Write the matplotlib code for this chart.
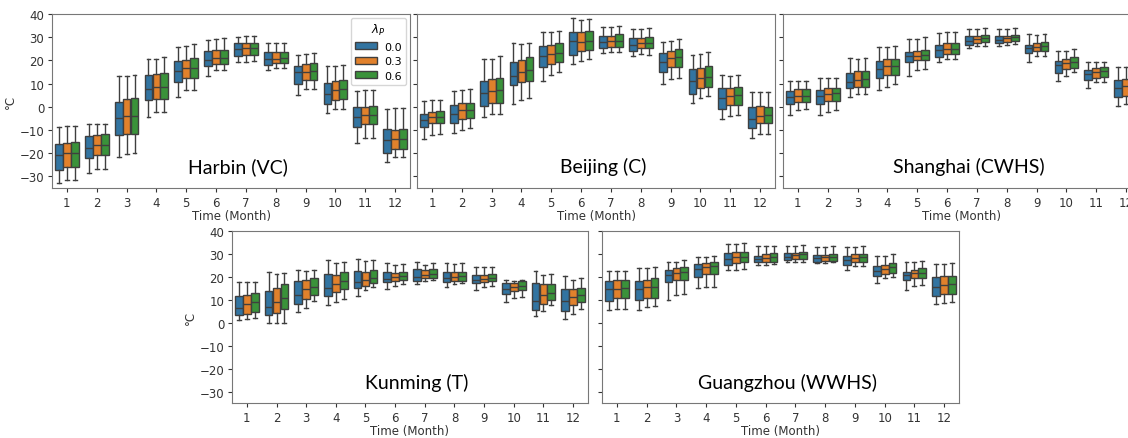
import matplotlib
matplotlib.use('Agg')
import numpy as np
import matplotlib.pyplot as plt
from matplotlib.patches import Patch

# box stats per month: (whisker low, q1, median, q3, whisker high)
months = [1, 2, 3, 4, 5, 6, 7, 8, 9, 10, 11, 12]
lambdas = ['0.0', '0.3', '0.6']

harbin_00 = [(-33.0, -27.3, -20.8, -16.2, -8.7), (-28.4, -22.2, -17.8, -12.6, -7.3), (-21.5, -12.3, -4.8, 2.0, 13.1),
             (-4.5, 3.0, 7.6, 13.8, 20.5), (4.3, 10.8, 15.5, 19.8, 25.6), (13.3, 17.4, 20.3, 24.0, 28.8),
             (19.4, 22.0, 24.9, 27.3, 30.2), (15.8, 18.1, 20.5, 23.4, 27.3), (5.0, 9.7, 14.8, 17.4, 22.4),
             (-2.5, 1.4, 5.7, 10.2, 17.7), (-15.5, -8.7, -4.2, -0.3, 6.9), (-23.7, -20.1, -14.3, -9.7, -0.8)]
harbin_03 = [(-31.6, -25.8, -20.1, -15.5, -8.4), (-27.0, -20.8, -16.6, -12.0, -7.6), (-20.2, -11.9, -3.8, 3.5, 13.3),
             (-2.2, 3.5, 8.6, 14.1, 20.8), (7.1, 12.6, 16.5, 20.3, 26.0), (15.8, 18.4, 21.0, 24.4, 29.0),
             (19.5, 22.3, 25.2, 27.3, 30.3), (16.5, 18.8, 20.8, 23.4, 27.3), (7.5, 11.6, 15.2, 18.4, 22.7),
             (-0.9, 3.0, 7.4, 11.3, 17.7), (-13.3, -7.6, -3.7, 0.1, 7.3), (-21.6, -18.0, -14.0, -10.0, -0.6)]
harbin_06 = [(-31.6, -25.8, -20.1, -15.3, -8.4), (-27.0, -20.8, -16.6, -11.7, -7.3), (-19.9, -11.9, -3.8, 3.7, 13.5),
             (-2.1, 3.5, 8.7, 14.5, 21.3), (7.3, 12.6, 16.8, 21.0, 26.9), (15.8, 18.4, 21.0, 24.6, 29.5),
             (19.7, 22.3, 25.3, 27.6, 30.6), (16.7, 18.8, 21.0, 23.7, 27.6), (7.5, 11.6, 15.5, 18.8, 23.0),
             (-0.8, 3.3, 7.5, 11.5, 18.0), (-13.3, -7.3, -3.4, 0.4, 7.3), (-21.6, -18.0, -13.7, -9.7, -0.6)]

beijing_00 = [(-13.7, -8.7, -5.8, -2.9, 2.6), (-11.1, -7.1, -2.9, 0.7, 6.7), (-4.4, 0.4, 5.9, 11.2, 20.8),
              (1.4, 9.3, 13.4, 19.4, 27.5), (11.2, 17.0, 21.7, 26.0, 32.4), (18.4, 22.4, 28.2, 32.1, 38.3),
              (23.1, 25.2, 27.8, 30.6, 34.2), (22.0, 24.2, 26.7, 29.5, 33.5), (9.8, 15.1, 19.5, 23.1, 27.8),
              (1.8, 5.4, 10.9, 16.2, 22.3), (-5.1, -0.8, 3.7, 8.3, 13.6), (-13.3, -9.0, -5.1, 0.0, 6.2)]
beijing_03 = [(-12.1, -7.2, -4.6, -2.1, 2.8), (-10.0, -5.4, -1.5, 1.5, 7.2), (-3.2, 1.5, 6.9, 11.9, 20.8),
              (3.0, 10.5, 15.1, 20.3, 27.0), (13.6, 18.4, 22.7, 26.6, 32.1), (19.8, 23.9, 28.0, 32.1, 37.4),
              (23.7, 25.9, 28.2, 30.6, 34.2), (22.7, 25.2, 27.3, 29.5, 33.5), (11.9, 17.0, 21.0, 24.2, 28.2),
              (3.6, 7.9, 12.3, 16.5, 22.7), (-3.9, 0.7, 4.7, 8.3, 13.4), (-11.9, -7.2, -3.9, 0.4, 6.2)]
beijing_06 = [(-11.8, -7.1, -4.2, -1.8, 3.0), (-9.0, -4.9, -1.5, 1.8, 7.6), (-2.9, 1.5, 7.3, 12.6, 22.0),
              (3.6, 10.9, 15.9, 21.3, 27.5), (14.8, 19.1, 23.1, 27.5, 32.5), (20.6, 24.4, 28.5, 32.8, 37.8),
              (23.7, 25.9, 28.5, 31.4, 34.7), (22.4, 25.2, 27.5, 30.2, 34.0), (12.6, 17.2, 21.6, 24.9, 29.2),
              (4.7, 8.6, 12.9, 17.4, 23.4), (-3.6, 0.7, 5.0, 8.7, 13.8), (-11.6, -7.1, -3.5, 0.1, 6.2)]

shanghai_00 = [(-3.6, 1.4, 4.0, 6.9, 11.2), (-3.6, 1.1, 4.7, 7.3, 12.6), (4.4, 7.9, 10.5, 14.5, 21.0),
               (7.3, 12.3, 16.2, 19.8, 25.6), (13.1, 19.5, 21.7, 23.4, 29.2), (19.1, 21.6, 24.4, 26.7, 31.6),
               (25.2, 26.6, 28.5, 30.4, 33.5), (26.0, 27.3, 28.9, 30.4, 33.5), (19.4, 23.1, 25.2, 26.6, 31.4),
               (11.2, 14.5, 18.1, 19.8, 24.2), (8.0, 11.6, 14.1, 16.0, 19.1), (0.4, 4.0, 8.3, 11.6, 17.0)]
shanghai_03 = [(-1.3, 2.1, 4.7, 7.6, 11.2), (-2.2, 2.6, 5.4, 7.9, 12.6), (5.4, 8.6, 11.6, 15.5, 20.6),
               (8.7, 13.6, 17.4, 20.6, 25.6), (15.8, 20.3, 22.0, 23.9, 29.2), (20.6, 22.7, 24.9, 27.3, 32.1),
               (26.0, 27.3, 29.2, 30.6, 33.5), (26.6, 28.0, 29.5, 30.6, 33.5), (21.7, 23.9, 25.6, 27.3, 30.9),
               (13.4, 16.2, 18.8, 20.6, 24.2), (10.5, 12.6, 15.1, 16.7, 19.1), (1.4, 4.7, 9.0, 11.9, 17.2)]
shanghai_06 = [(-1.0, 2.1, 4.7, 7.6, 11.2), (-1.5, 2.6, 5.9, 7.9, 12.6), (5.7, 8.6, 11.9, 15.5, 21.0),
               (9.8, 13.8, 17.4, 20.8, 26.0), (16.2, 20.3, 22.3, 24.4, 29.9), (20.8, 22.7, 24.9, 27.5, 32.4),
               (26.3, 27.8, 29.5, 31.1, 34.0), (27.0, 28.2, 29.9, 31.1, 34.0), (22.0, 24.2, 26.3, 28.0, 31.4),
               (14.8, 16.7, 19.1, 21.3, 24.9), (10.5, 12.9, 15.5, 17.2, 19.5), (2.0, 5.0, 9.0, 12.0, 17.5)]

kunming_00 = [(1.1, 3.3, 6.4, 11.6, 17.7), (0.0, 3.3, 6.9, 13.8, 22.0), (4.7, 8.0, 12.3, 18.4, 23.1),
              (7.6, 11.5, 15.1, 21.3, 27.3), (11.5, 15.1, 17.7, 22.4, 28.0), (14.5, 17.7, 19.1, 22.0, 26.0),
              (16.9, 18.4, 20.1, 23.4, 26.3), (15.5, 17.7, 19.4, 22.3, 26.0), (14.4, 17.2, 18.7, 21.0, 24.4),
              (9.0, 12.6, 14.8, 17.2, 18.7), (2.8, 5.4, 9.3, 17.4, 22.4), (1.8, 5.0, 9.3, 14.8, 20.5)]
kunming_03 = [(1.8, 4.0, 8.0, 12.2, 17.7), (0.0, 4.3, 9.0, 15.1, 21.3), (6.4, 10.5, 14.5, 18.7, 22.7),
              (9.0, 13.3, 17.0, 21.0, 26.0), (14.1, 16.2, 18.7, 22.3, 27.0), (15.9, 18.4, 19.8, 21.7, 25.2),
              (18.4, 19.4, 20.8, 23.0, 25.3), (16.9, 18.1, 19.8, 22.3, 25.6), (15.5, 17.7, 19.1, 20.8, 24.1),
              (10.9, 13.8, 15.5, 17.4, 18.4), (5.1, 8.0, 11.9, 16.7, 21.0), (3.7, 7.6, 11.2, 14.8, 18.8)]
kunming_06 = [(2.1, 4.7, 9.0, 13.0, 17.7), (0.1, 5.8, 10.7, 16.7, 21.7), (9.3, 12.2, 15.5, 19.4, 23.1),
              (10.5, 14.8, 18.1, 22.0, 26.6), (15.5, 17.4, 19.5, 23.1, 27.5), (16.7, 18.7, 20.3, 22.3, 25.6),
              (18.7, 19.4, 21.3, 23.4, 25.9), (17.2, 18.4, 20.3, 22.3, 26.0), (16.2, 18.0, 19.4, 21.3, 24.4),
              (11.2, 14.4, 16.2, 18.0, 18.7), (7.9, 10.0, 13.0, 16.9, 21.3), (5.8, 9.0, 11.9, 15.1, 19.4)]

guangzhou_00 = [(5.7, 9.5, 14.5, 18.4, 22.4), (5.4, 9.7, 14.8, 18.4, 23.7), (10.0, 17.7, 20.8, 23.1, 26.7),
                (15.1, 20.1, 23.4, 25.6, 28.8), (23.1, 25.3, 28.0, 30.3, 34.2), (25.3, 26.3, 28.0, 29.2, 33.5),
                (26.3, 27.3, 28.8, 30.3, 33.5), (25.9, 26.7, 28.2, 29.5, 33.0), (23.1, 25.3, 27.5, 28.9, 33.0),
                (17.2, 20.5, 22.4, 24.6, 28.9), (14.4, 18.7, 20.8, 22.3, 26.3), (8.3, 11.6, 15.8, 19.8, 25.6)]
guangzhou_03 = [(5.8, 10.7, 14.8, 18.7, 22.4), (6.9, 10.7, 15.5, 18.8, 23.7), (12.2, 18.7, 21.7, 23.7, 26.7),
                (15.5, 21.3, 24.1, 25.9, 28.8), (23.1, 26.0, 28.8, 30.9, 34.5), (25.3, 26.7, 28.2, 29.9, 33.5),
                (26.6, 27.8, 29.6, 30.6, 33.5), (25.9, 27.0, 28.8, 29.6, 33.0), (24.6, 26.3, 28.2, 29.9, 33.2),
                (19.5, 21.3, 23.4, 25.2, 29.2), (16.2, 19.4, 21.7, 23.1, 26.3), (8.7, 12.6, 16.5, 20.3, 25.6)]
guangzhou_06 = [(6.1, 10.7, 15.1, 18.7, 22.7), (7.3, 10.9, 15.8, 19.4, 24.1), (12.6, 18.8, 22.0, 24.1, 27.3),
                (15.8, 21.3, 24.6, 26.3, 28.9), (23.4, 26.3, 28.8, 30.9, 34.7), (25.6, 26.7, 28.8, 30.2, 33.5),
                (26.7, 28.0, 29.9, 30.9, 33.8), (26.3, 27.0, 28.8, 29.9, 33.5), (24.9, 26.3, 28.5, 29.9, 33.5),
                (20.1, 21.7, 24.1, 26.0, 29.9), (16.5, 19.4, 21.7, 23.7, 27.0), (9.0, 12.6, 16.7, 20.5, 26.0)]

colors = ['#3274a1', '#e1812c', '#3a923a']
edge = '#3f3f3f'


def draw_city(ax, series, name, show_ylabel, show_yticklabels, legend=False):
    x = np.arange(len(months))
    width = 0.8 / len(series)
    for i, data in enumerate(series):
        stats = []
        for low, q1, med, q3, high in data:
            stats.append({'whislo': low, 'q1': q1, 'med': med, 'q3': q3, 'whishi': high})
        pos = x + (i - 1) * width
        ax.bxp(stats, positions=pos, widths=width * 0.98, showfliers=False, patch_artist=True,
               boxprops=dict(facecolor=colors[i], edgecolor=edge, linewidth=1.0),
               medianprops=dict(color=edge, linewidth=1.0),
               whiskerprops=dict(color=edge, linewidth=1.0),
               capprops=dict(color=edge, linewidth=1.0),
               manage_ticks=False)
    ax.set_xlim(-0.5, len(months) - 0.5)
    ax.set_ylim(-35, 40)
    ax.set_yticks([-30, -20, -10, 0, 10, 20, 30, 40])
    ax.set_xticks(x)
    ax.set_xticklabels([str(m) for m in months])
    ax.tick_params(labelsize=8.5, colors='#333333', length=3, pad=2.5)
    if not show_yticklabels:
        ax.set_yticklabels([])
    for s in ax.spines.values():
        s.set_color('#777777')
    ax.set_xlabel('Time (Month)', fontsize=8.5, color='#333333', labelpad=0)
    if show_ylabel:
        ax.set_ylabel('°C', fontsize=8.5, color='#333333', labelpad=2)
    ax.text(0.52, 0.125, name, transform=ax.transAxes, ha='center', va='center',
            fontsize=14, family='Lato', color='black')
    if legend:
        handles = [Patch(facecolor=colors[i], edgecolor=edge, linewidth=1.0, label=lambdas[i])
                   for i in range(len(lambdas))]
        ax.legend(handles=handles, title=r'$\lambda_P$',
                  loc='upper right', fontsize=8, title_fontsize=8.5, frameon=True,
                  borderaxespad=0.35, handlelength=2.0, handleheight=0.6, labelspacing=0.4,
                  handletextpad=0.6, borderpad=0.4)


fig = plt.figure(figsize=(11.28, 4.39), dpi=100)
w = 0.3174
ax1 = fig.add_axes([0.0461, 0.5695, w, 0.3964])
ax2 = fig.add_axes([0.3697, 0.5695, w, 0.3964])
ax3 = fig.add_axes([0.6941, 0.5695, w, 0.3964])
ax4 = fig.add_axes([0.2057, 0.0797, 0.3155, 0.3918])
ax5 = fig.add_axes([0.5337, 0.0797, 0.3165, 0.3918])

draw_city(ax1, [harbin_00, harbin_03, harbin_06], 'Harbin (VC)', True, True, legend=True)
draw_city(ax2, [beijing_00, beijing_03, beijing_06], 'Beijing (C)', False, False)
draw_city(ax3, [shanghai_00, shanghai_03, shanghai_06], 'Shanghai (CWHS)', False, False)
draw_city(ax4, [kunming_00, kunming_03, kunming_06], 'Kunming (T)', True, True)
draw_city(ax5, [guangzhou_00, guangzhou_03, guangzhou_06], 'Guangzhou (WWHS)', False, False)

fig.savefig('out.png', dpi=100)
